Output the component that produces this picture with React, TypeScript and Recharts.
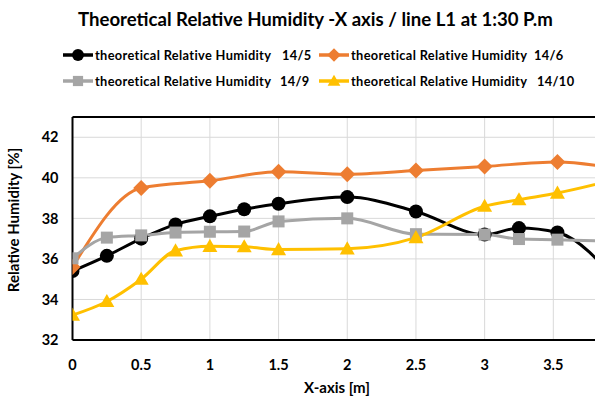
import React from "react";
import { LineChart, Line, XAxis, YAxis, CartesianGrid, ReferenceLine } from "recharts";

// Distance along the X axis [m] for each measured series
const xFull = [0, 0.25, 0.5, 0.75, 1, 1.25, 1.5, 2, 2.5, 3, 3.25, 3.53, 4];
const xHalf = [0, 0.5, 1, 1.5, 2, 2.5, 3, 3.53, 4];

// Relative humidity [%] per day
const rh14_5 = [35.4, 36.15, 37.0, 37.7, 38.1, 38.45, 38.72, 39.05, 38.34, 37.2, 37.52, 37.3, 34.6];
const rh14_6 = [35.6, 39.5, 39.85, 40.3, 40.18, 40.36, 40.56, 40.78, 40.4];
const rh14_9 = [36.03, 37.05, 37.16, 37.3, 37.34, 37.35, 37.85, 38.0, 37.22, 37.2, 36.98, 36.95, 36.85];
const rh14_10 = [33.23, 33.9, 35.0, 36.4, 36.62, 36.6, 36.46, 36.5, 37.05, 38.6, 38.92, 39.25, 40.0];

const xTicks = [0, 0.5, 1, 1.5, 2, 2.5, 3, 3.5];
const yTicks = [32, 34, 36, 38, 40, 42];

const FONT = "Lato, 'Open Sans', sans-serif";

type Shape = "circle" | "diamond" | "square" | "triangle";

const toPoints = (xs: number[], ys: number[]) => xs.map((x, i) => ({ x, y: ys[i] }));

const series = [
  { key: "s145", name: "theoretical Relative Humidity", day: "14/5", color: "#000000", shape: "circle" as Shape, data: toPoints(xFull, rh14_5) },
  { key: "s146", name: "theoretical Relative Humidity", day: "14/6", color: "#ED7D31", shape: "diamond" as Shape, data: toPoints(xHalf, rh14_6) },
  { key: "s149", name: "theoretical Relative Humidity", day: "14/9", color: "#A5A5A5", shape: "square" as Shape, data: toPoints(xFull, rh14_9) },
  { key: "s1410", name: "theoretical Relative Humidity", day: "14/10", color: "#FFC000", shape: "triangle" as Shape, data: toPoints(xFull, rh14_10) },
];

// legend slots: icon left, row centre, where the day label starts
const legendSlots = [
  { left: 63, top: 55, dayAt: 282 },
  { left: 319, top: 55, dayAt: 534 },
  { left: 63, top: 81, dayAt: 280 },
  { left: 319, top: 81, dayAt: 537 },
];

function Marker({ cx, cy, shape, color, size = 1 }: { cx: number; cy: number; shape: Shape; color: string; size?: number }) {
  if (cx == null || cy == null) return null;
  if (shape === "circle") return <circle cx={cx} cy={cy} r={7 * size} fill={color} />;
  if (shape === "diamond") {
    const r = 8 * size;
    return <polygon points={`${cx},${cy - r} ${cx + r},${cy} ${cx},${cy + r} ${cx - r},${cy}`} fill={color} />;
  }
  if (shape === "square") {
    const h = 6 * size;
    return <rect x={cx - h} y={cy - h} width={h * 2} height={h * 2} fill={color} />;
  }
  const r = 7.5 * size;
  return <polygon points={`${cx},${cy - r} ${cx + r},${cy + r * 0.75} ${cx - r},${cy + r * 0.75}`} fill={color} />;
}

const legendText: React.CSSProperties = {
  position: "absolute",
  fontFamily: FONT,
  fontWeight: 700,
  fontSize: 12.8,
  letterSpacing: 0.35,
  lineHeight: "18px",
  color: "#000",
  whiteSpace: "nowrap",
};

function LegendItems() {
  return (
    <>
      {series.map((s, i) => {
        const slot = legendSlots[i];
        return (
          <React.Fragment key={s.key}>
            <svg width={30} height={18} style={{ position: "absolute", left: slot.left, top: slot.top - 9 }}>
              <line x1={0} y1={9} x2={30} y2={9} stroke={s.color} strokeWidth={3.5} />
              <Marker cx={15} cy={9} shape={s.shape} color={s.color} size={0.85} />
            </svg>
            <span style={{ ...legendText, left: slot.left + 32, top: slot.top - 9 }}>{s.name}</span>
            <span style={{ ...legendText, left: slot.dayAt, top: slot.top - 9 }}>{s.day}</span>
          </React.Fragment>
        );
      })}
    </>
  );
}

export default function App() {
  return (
    <div style={{ position: "fixed", top: 0, left: 0, width: 595, height: 399, overflow: "hidden", background: "#fff" }}>
      <div
        style={{
          position: "absolute",
          top: 7,
          left: 78,
          fontFamily: FONT,
          fontWeight: 700,
          fontSize: 18.6,
          lineHeight: "24px",
          color: "#000",
          whiteSpace: "nowrap",
        }}
      >
        Theoretical Relative Humidity -X axis / line L1 at 1:30 P.m
      </div>
      <LegendItems />
      <LineChart width={640} height={399} margin={{ top: 117, right: 18, bottom: 0, left: 0 }}>
        <CartesianGrid stroke="#d9d9d9" strokeWidth={1} />
        <XAxis
          type="number"
          dataKey="x"
          domain={[0, 4]}
          ticks={xTicks}
          allowDataOverflow
          axisLine={{ stroke: "#000", strokeWidth: 2 }}
          tickLine={false}
          tickSize={0}
          tickMargin={20}
          height={59}
          tick={{ fill: "#000", fontFamily: FONT, fontWeight: 700, fontSize: 14.5 }}
          label={{
            content: () => (
              <text x={337} y={393} textAnchor="middle" fill="#000" fontFamily={FONT} fontWeight={700} fontSize={15}>
                X-axis [m]
              </text>
            ),
          }}
        />
        <YAxis
          type="number"
          domain={[32, 43]}
          ticks={yTicks}
          width={72.5}
          axisLine={{ stroke: "#000", strokeWidth: 2 }}
          tickLine={false}
          tickSize={0}
          tickMargin={14}
          tick={{ fill: "#000", fontFamily: FONT, fontWeight: 700, fontSize: 14.5 }}
          label={{
            content: () => (
              <text
                x={19}
                y={220}
                transform="rotate(-90, 19, 220)"
                textAnchor="middle"
                fill="#000"
                fontFamily={FONT}
                fontWeight={700}
                fontSize={15}
              >
                Relative Humidity [%]
              </text>
            ),
          }}
        />
        <ReferenceLine y={43} stroke="#000" strokeWidth={2} />
        {series.map((s) => (
          <Line
            key={s.key}
            data={s.data}
            dataKey="y"
            type="monotone"
            stroke={s.color}
            strokeWidth={3}
            dot={(p: any) => <Marker key={`${s.key}-${p.index}`} cx={p.cx} cy={p.cy} shape={s.shape} color={s.color} />}
            activeDot={false}
            isAnimationActive={false}
          />
        ))}
      </LineChart>
    </div>
  );
}
